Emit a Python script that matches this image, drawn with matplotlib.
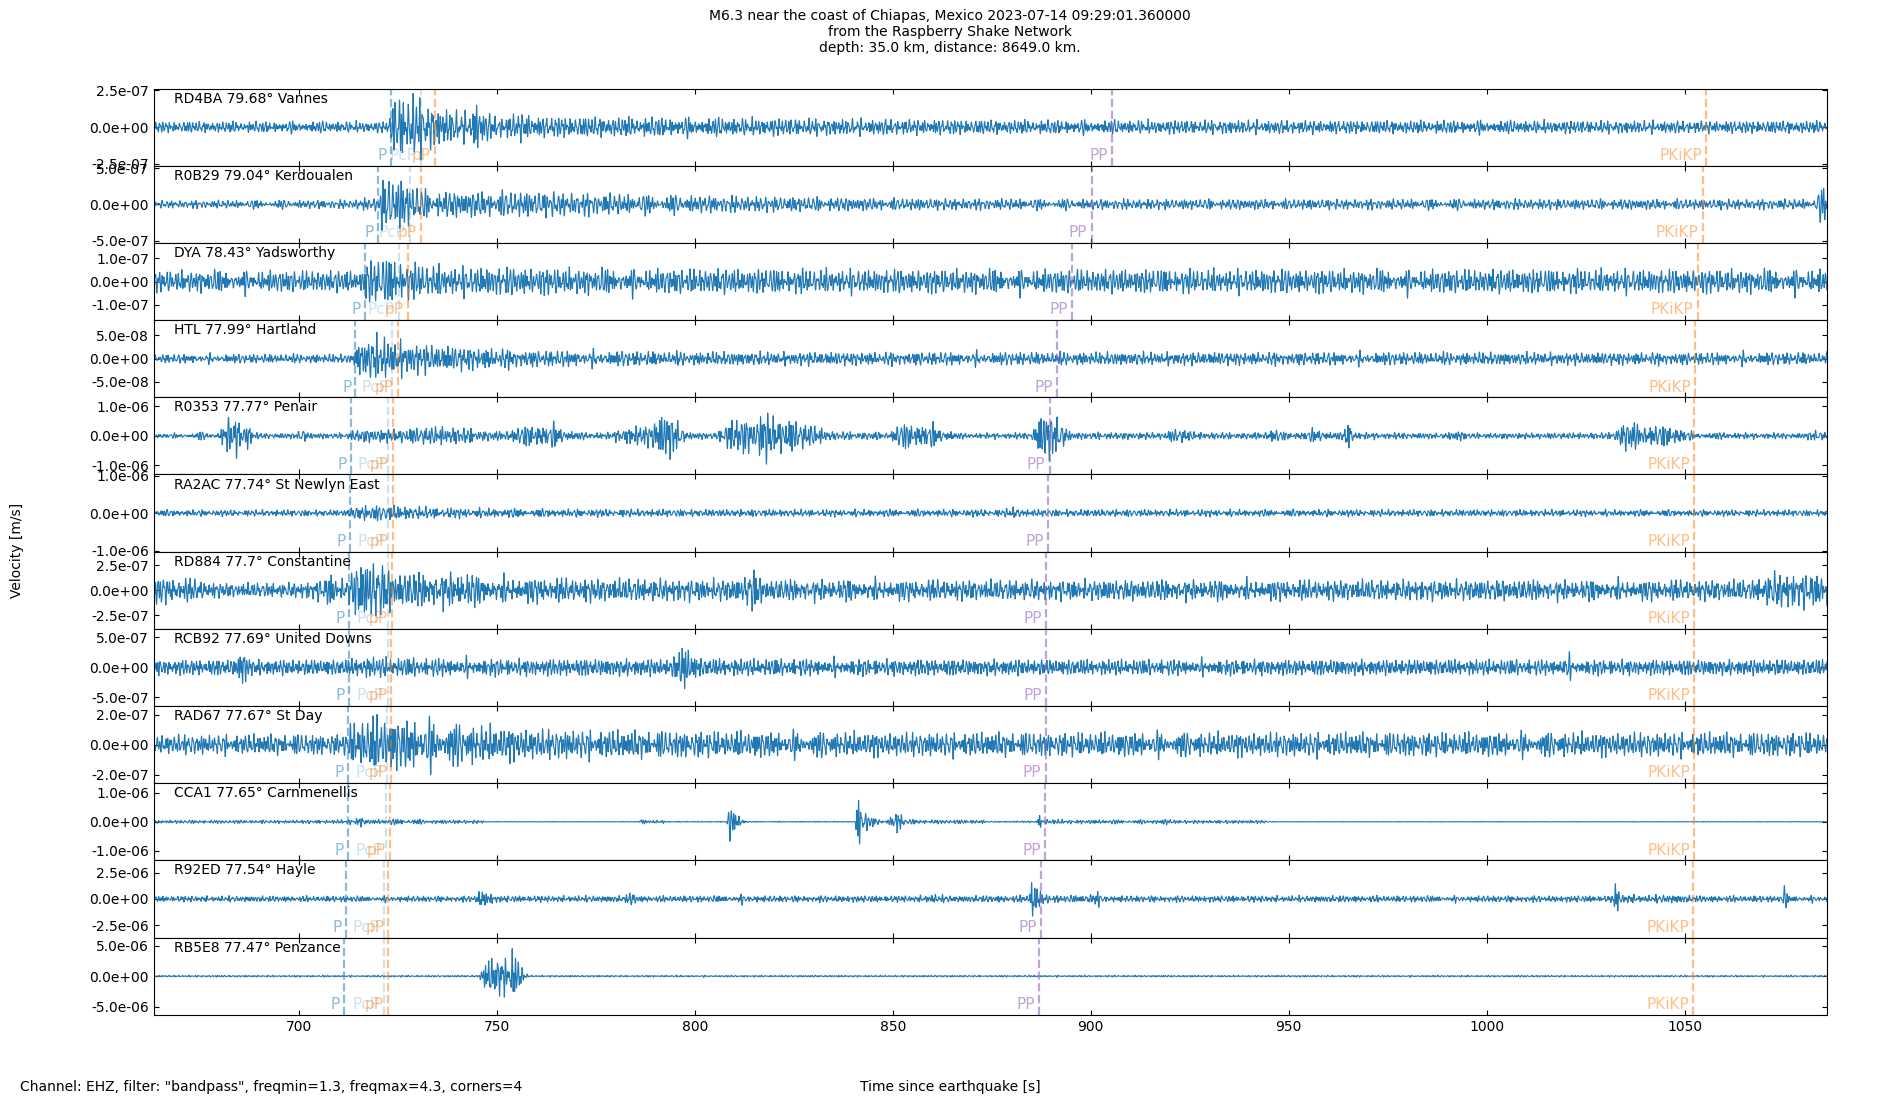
#!/usr/bin/env python3

import numpy as np
import matplotlib
matplotlib.use("Agg")
import matplotlib.pyplot as plt
from matplotlib.ticker import FormatStrFormatter

# ---- event / stations -------------------------------------------------
title = ("M6.3 near the coast of Chiapas, Mexico 2023-07-14 09:29:01.360000\n"
         "from the Raspberry Shake Network\n"
         "depth: 35.0 km, distance: 8649.0 km.")
footer = 'Channel: EHZ, filter: "bandpass", freqmin=1.3, freqmax=4.3, corners=4'

codes = ["RD4BA", "R0B29", "DYA", "HTL", "R0353", "RA2AC",
         "RD884", "RCB92", "RAD67", "CCA1", "R92ED", "RB5E8"]
dists = [79.68, 79.04, 78.43, 77.99, 77.77, 77.74,
         77.7, 77.69, 77.67, 77.65, 77.54, 77.47]
places = ["Vannes", "Kerdoualen", "Yadsworthy", "Hartland", "Penair",
          "St Newlyn East", "Constantine", "United Downs", "St Day",
          "Carnmenellis", "Hayle", "Penzance"]

# y tick value and y limit per station [m/s]
ytick = [2.5e-7, 5e-7, 1e-7, 5e-8, 1e-6, 1e-6,
         2.5e-7, 5e-7, 2e-7, 1e-6, 2.5e-6, 5e-6]
ylim = [2.62e-7, 5.33e-7, 1.66e-7, 8.3e-8, 1.31e-6, 1.03e-6,
        3.84e-7, 6.43e-7, 2.57e-7, 1.34e-6, 3.66e-6, 6.3e-6]

# phase arrivals [s since origin]
phase_names = ["P", "PcP", "pP", "PP", "PKiKP"]
t_P = [723.3, 720.1, 716.6, 714.3, 713.1, 712.9, 712.6, 712.6, 712.5, 712.4, 711.8, 711.4]
t_PcP = [730.8, 728.0, 725.3, 723.6, 722.6, 722.6, 722.5, 722.4, 722.3, 722.1, 721.5, 721.4]
t_pP = [734.3, 730.8, 727.6, 725.1, 723.8, 723.7, 723.5, 723.4, 723.4, 723.1, 722.6, 722.4]
t_PP = [905.4, 900.2, 895.3, 891.4, 889.6, 889.2, 888.8, 888.7, 888.6, 888.5, 887.5, 887.0]
t_PKiKP = [1055.4, 1054.5, 1053.3, 1052.7, 1052.4, 1052.4, 1052.4, 1052.4, 1052.4, 1052.4, 1052.1, 1052.1]
phase_colors = ["#1f77b4", "#1f77b4", "#ff7f0e", "#9467bd", "#ff7f0e"]
phase_alpha = [0.5, 0.22, 0.5, 0.6, 0.5]

xmin, xmax = 663.4, 1085.9

# ---- trace envelopes: (time [s], half amplitude) --
env_vannes = [(663, 0.32), (722.8, 0.32), (723.6, 1.6), (726, 1.9), (731, 1.7), (734, 1.2),
              (738, 1.0), (743, 0.8), (744.5, 1.7), (746, 1.0), (750, 0.6), (757, 0.85),
              (760, 0.6), (790, 0.55), (820, 0.5), (850, 0.45), (880, 0.4), (1086, 0.35)]
env_kerdoualen = [(663, 0.45), (714, 0.5), (716, 0.9), (718, 0.6), (720, 0.8), (721, 3.0),
                  (725, 3.3), (729, 2.2), (733, 1.5), (760, 1.5), (790, 1.1), (820, 0.9),
                  (850, 0.7), (900, 0.6), (1000, 0.6), (1083, 0.6), (1084.5, 2.0), (1086, 2.0)]
env_yadsworthy = [(663, 3.9), (716, 3.9), (717, 7.5), (724, 8.5), (728, 6.5), (740, 5.2),
                  (780, 4.6), (850, 4.3), (1086, 4.3)]
env_hartland = [(663, 0.8), (713.8, 0.8), (715, 3.5), (720, 4.0), (726, 3.2), (732, 2.6),
                (745, 2.0), (760, 1.5), (800, 1.2), (1086, 1.1)]
env_penair = [(663, 0.7), (674, 0.7), (675, 1.5), (676.5, 0.7), (680, 0.8), (681, 4.5),
              (684, 5.6), (686, 4), (687, 5), (688.5, 1.0), (690, 0.8), (699.5, 0.8),
              (701, 2.5), (702.5, 0.8), (712, 0.8), (714, 1.8), (726, 2.0), (735, 2.8),
              (742, 2.2), (750, 1.2), (754, 2.0), (760, 3.5), (766, 3.2), (770, 1.0),
              (779, 1.0), (782, 2.8), (787, 2.5), (789, 4.5), (793, 7.0), (796, 4.0),
              (798, 1.0), (806, 1.0), (808, 4.5), (812, 5.5), (815, 4.0), (817.5, 8.0),
              (820, 5.5), (825, 4.5), (830, 3.0), (835, 1.2), (849, 1.0), (852, 3.5), (858, 3.8),
              (864, 2.0), (866, 0.8), (885, 0.9), (886.5, 5.0), (889, 7.0), (892, 5.0),
              (895, 1.0), (918, 1.0), (922, 2.2), (927, 1.0), (943, 0.9), (946, 2.0),
              (950, 0.9), (955, 1.5), (958, 2.5), (961, 1.0), (964, 1.0), (965, 7.0),
              (966.5, 1.0), (989, 0.8), (993, 1.5), (996, 0.8), (1031, 0.9), (1033, 2.5),
              (1035, 4.5), (1040, 3.0), (1048, 2.8), (1052, 1.0), (1080, 0.8), (1083, 1.6),
              (1086, 1.2)]
env_newlyn = [(663, 0.7), (712.5, 0.7), (714, 1.6), (720, 1.8), (735, 1.2), (760, 0.9),
              (800, 0.8), (878, 0.8), (880, 1.3), (884, 0.8), (1086, 0.7)]
env_constantine = [(663, 1.1), (672, 1.0), (680, 0.6), (698, 0.6), (706, 0.9), (708, 1.6),
                   (710, 0.8), (712.4, 0.9), (714, 2.3), (720, 2.5), (724, 1.5), (736, 1.4),
                   (742, 1.6), (746, 1.1), (780, 0.95), (812, 0.9), (814.5, 2.0), (817, 0.9),
                   (870, 0.85), (950, 0.85), (1068, 0.85), (1072, 1.5), (1086, 1.4)]
env_uniteddowns = [(663, 1.1), (684, 1.1), (686, 3.0), (688, 1.1), (712, 1.1), (716, 1.5),
                   (730, 1.3), (760, 1.2), (794, 1.2), (796.5, 2.5), (797.5, 4.2), (799, 2.0),
                   (802, 1.2), (900, 1.1), (1018, 1.1), (1020, 2.0), (1022, 1.1), (1086, 1.1)]
env_stday = [(663, 0.55), (712, 0.6), (713, 1.2), (718, 1.6), (730, 1.4), (745, 1.1),
             (760, 0.85), (800, 0.75), (850, 0.68), (1086, 0.68)]
env_carnmenellis = [(663, 0.5), (700, 0.5), (712, 0.6), (716, 1.5), (718, 0.6), (729, 1.0),
                    (731, 0.6), (746, 0.5), (748, 0.1), (786, 0.1), (786.7, 2.0), (787.5, 0.5),
                    (792, 0.5), (793, 0.15), (808, 0.15), (808.8, 6.5), (810, 3.0), (812, 0.8),
                    (814, 0.15), (840.5, 0.15), (841.2, 9.0), (842.5, 3.0), (846, 1.0),
                    (848, 0.15), (851.5, 3.5), (853, 0.8), (858, 0.6), (872, 0.6), (874, 0.15),
                    (886.5, 0.3), (887, 2.5), (888, 0.8), (895, 0.6), (918, 0.6), (919.5, 1.2),
                    (921, 0.5), (944, 0.5), (945, 0.1), (1086, 0.1)]
env_hayle = [(663, 2.3), (744, 2.3), (746, 7), (748.5, 5), (750, 2.5), (782, 2.5), (784, 5.5),
             (786, 2.5), (808, 2.5), (812, 3.5), (817, 2.5), (856, 2.5), (860, 3.8), (865, 2.5),
             (884.5, 2.8), (885.3, 26), (886.2, 12), (887.5, 5), (890, 3.0), (898, 2.8),
             (900, 7.5), (903, 3.5), (906, 2.5), (1031.8, 2.5), (1032.5, 18), (1033.5, 4.0),
             (1040, 2.8), (1046, 3.5), (1052, 2.6), (1074.8, 2.5), (1075.3, 13), (1076.2, 2.5),
             (1086, 2.5)]
env_penzance = [(663, 0.12), (745.5, 0.12), (746.5, 1.5), (748, 2.4), (750, 3.3), (751.5, 2.2),
                (752.5, 2.8), (754, 3.9), (755.5, 2.6), (757, 0.5), (758, 0.12), (1086, 0.12)]

envelopes = [env_vannes, env_kerdoualen, env_yadsworthy, env_hartland, env_penair,
             env_newlyn, env_constantine, env_uniteddowns, env_stday, env_carnmenellis,
             env_hayle, env_penzance]
env_units = [1e-7, 1e-7, 1e-8, 1e-8, 1e-7, 1e-7, 1e-7, 1e-7, 1e-7, 1e-7, 1e-7, 1e-6]

# frequencies of the wiggle texture (as they come out at this plot resolution)
band_freqs = [0.71, 0.83, 0.97, 1.06, 1.19, 1.31, 1.47, 1.61, 1.74, 1.93, 2.11, 2.37]


def trace(i, t):
    c = np.zeros_like(t)
    for k, f in enumerate(band_freqs):
        c += (0.6 + 0.25 * ((k * 5 + i) % 7)) * np.sin(
            2 * np.pi * f * (1 + 0.011 * i) * t + 1.618 * k * (i + 1) + 2.414 * i)
    w = 20
    lm = np.lib.stride_tricks.sliding_window_view(
        np.pad(np.abs(c), (w // 2, w - w // 2 - 1), mode="edge"), w).max(axis=1)
    c = c / (0.3 * lm + 0.7 * np.median(lm))
    et, ea = zip(*envelopes[i])
    return c * np.interp(t, et, ea) * env_units[i]


if __name__ == "__main__":
    fig, axs = plt.subplots(12, 1, sharex=True, figsize=(19, 11), dpi=100)
    fig.subplots_adjust(left=0.081, right=0.9615, top=0.9195, bottom=0.0775, hspace=0)
    t = np.arange(xmin, xmax, 0.05)
    arrivals = [t_P, t_PcP, t_pP, t_PP, t_PKiKP]

    for i, ax in enumerate(axs):
        ax.plot(t, trace(i, t), color="C0", lw=0.8)
        ax.set_ylim(-ylim[i], ylim[i])
        ax.set_yticks([-ytick[i], 0, ytick[i]])
        ax.yaxis.set_major_formatter(FormatStrFormatter("%.1e"))
        ax.tick_params(direction="in", top=True, right=True)
        ax.text(0.012, 0.96, f"{codes[i]} {dists[i]}\u00b0 {places[i]}",
                transform=ax.transAxes, va="top", fontsize=10)
        for j, name in enumerate(phase_names):
            ta = arrivals[j][i]
            ax.axvline(ta, color=phase_colors[j], alpha=phase_alpha[j], ls="--", lw=1.6)
            ax.annotate(name, xy=(ta, 0.035), xycoords=("data", "axes fraction"),
                        xytext=(-3, 0), textcoords="offset points", ha="right", va="bottom",
                        color=phase_colors[j], alpha=phase_alpha[j], fontsize=11)

    axs[-1].set_xlim(xmin, xmax)
    axs[-1].set_xticks(range(700, 1051, 50))

    fig.suptitle(title, x=0.5, y=0.992, va="top", fontsize=10)
    fig.text(0.009, 0.5, "Velocity [m/s]", rotation=90, ha="center", va="center")
    fig.text(0.0105, 0.012, footer, ha="left", va="center")
    fig.text(0.5, 0.012, "Time since earthquake [s]", ha="center", va="center")
    fig.savefig("out.png")
